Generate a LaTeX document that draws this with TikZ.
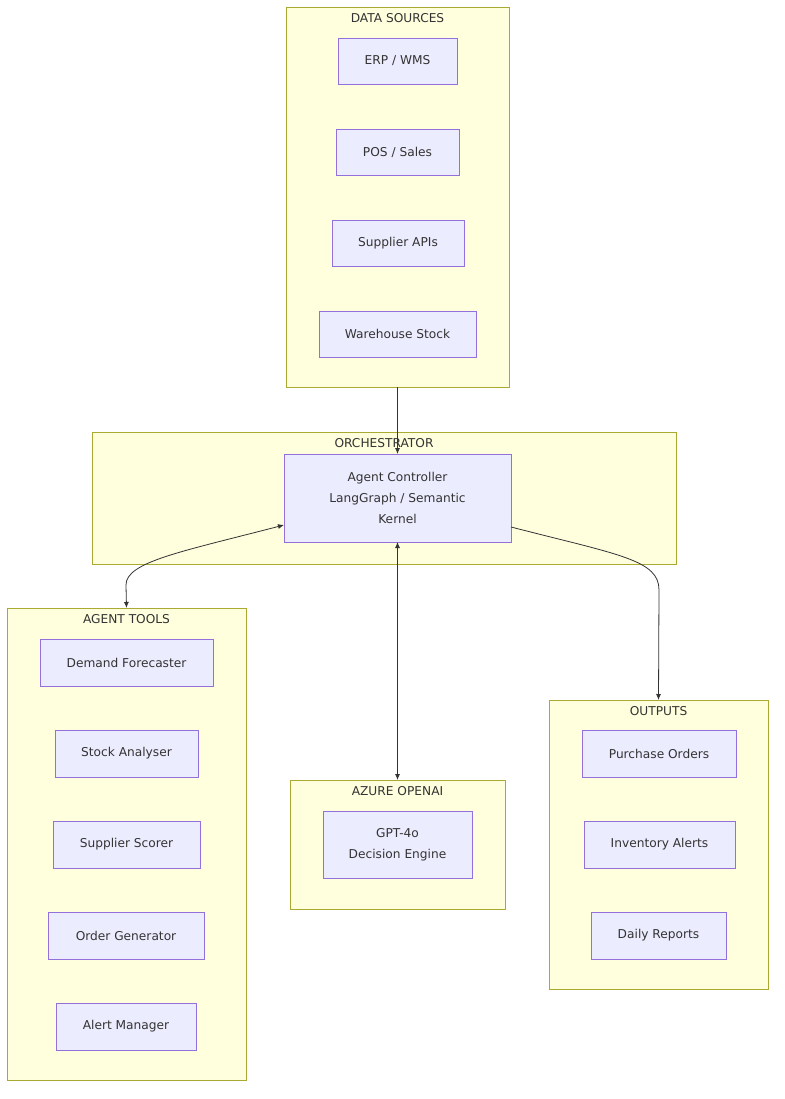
\documentclass[tikz,border=0pt]{standalone}
\usepackage{fontspec}
\setmainfont{DejaVu Sans}
\usetikzlibrary{arrows.meta}
\definecolor{clf}{HTML}{FFFFDE}\definecolor{cls}{HTML}{AAAA33}
\definecolor{ndf}{HTML}{ECECFF}\definecolor{nds}{HTML}{9370DB}
\definecolor{txt}{HTML}{333333}
\begin{document}
\begin{tikzpicture}[x=1pt,y=-1pt,
 cl/.style={draw=cls,fill=clf,line width=0.8pt,inner sep=0,outer sep=0},
 bx/.style={draw=nds,fill=ndf,line width=0.8pt,text=txt,font=\fontsize{12.2}{21}\selectfont,align=center,inner sep=0,outer sep=0},
 tl/.style={text=txt,font=\fontsize{12.2}{14}\selectfont,anchor=north},
 ar/.style={draw=txt,line width=0.8pt,-{Latex[length=6pt,width=5pt]}},
 br/.style={draw=txt,line width=0.8pt,{Latex[length=6pt,width=5pt]}-{Latex[length=6pt,width=5pt]}}]
\useasboundingbox (0,0) rectangle (784,1099);
\newcommand{\clu}[6]{\node[cl,minimum width=#4-#2,minimum height=#5-#3] (#1) at ({(#2+#4)/2},{(#3+#5)/2}) {};\node[tl] at ({(#2+#4)/2},#3+3) {#6};}
\newcommand{\bxx}[6]{\node[bx,minimum width=#4-#2,minimum height=#5-#3] (#1) at ({(#2+#4)/2},{(#3+#5)/2}) {#6};}
\clu{ds}{286}{7}{509}{387}{DATA SOURCES}
\clu{orc}{92}{432}{676}{564}{ORCHESTRATOR}
\clu{at}{7}{608}{246}{1080}{AGENT TOOLS}
\clu{az}{290}{780}{505}{909}{AZURE OPENAI}
\clu{out}{549}{700}{768}{989}{OUTPUTS}
\bxx{erp}{338}{38}{457}{84}{ERP / WMS}
\bxx{pos}{336}{129}{459}{175}{POS / Sales}
\bxx{sup}{332}{220}{464}{266}{Supplier APIs}
\bxx{wh}{319}{311}{476}{357}{Warehouse Stock}
\bxx{ac}{284}{454}{511}{542}{Agent Controller\\LangGraph / Semantic\\Kernel}
\bxx{df}{40}{639}{213}{686}{Demand Forecaster}
\bxx{sa}{55}{730}{198}{777}{Stock Analyser}
\bxx{ss}{53}{821}{200}{868}{Supplier Scorer}
\bxx{og}{48}{912}{204}{959}{Order Generator}
\bxx{am}{56}{1003}{196}{1050}{Alert Manager}
\bxx{gpt}{323}{811}{472}{878}{GPT-4o\\Decision Engine}
\bxx{po}{582}{730}{736}{777}{Purchase Orders}
\bxx{ia}{584}{821}{735}{868}{Inventory Alerts}
\bxx{dr}{591}{912}{726}{959}{Daily Reports}
\coordinate (c1) at (284,525);
\coordinate (c2) at (511,527);
\draw[ar] (ds.south -| ac.north) -- (ac.north);
\draw[br] (c1) .. controls (180,552) and (126,562) .. (126,585) -- (at.north);
\draw[br] (ac.south) -- (az.north);
\draw[ar] (c2) .. controls (620,555) and (659,560) .. (659,590) -- (out.north);
\end{tikzpicture}
\end{document}
